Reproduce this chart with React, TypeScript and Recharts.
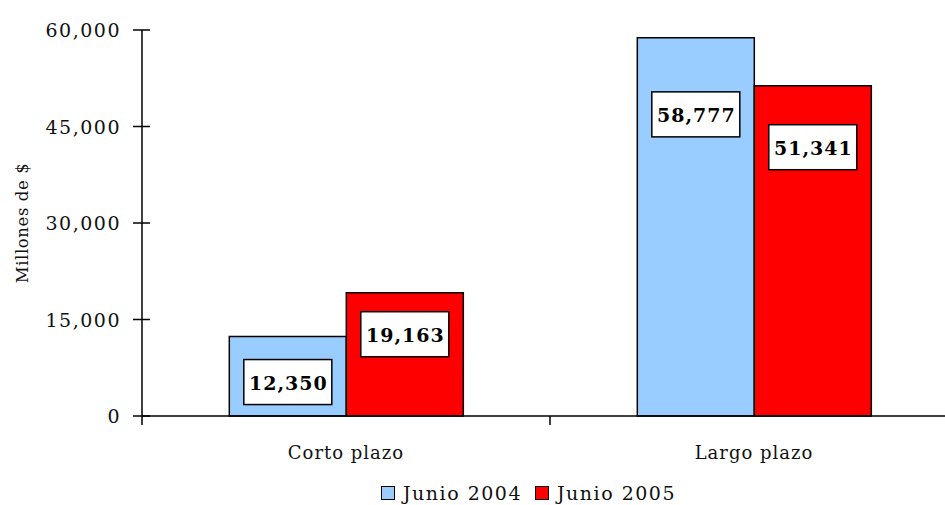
import { BarChart, Bar, XAxis, YAxis, Legend, LabelList } from 'recharts';

// deuda por plazo, millones de $
const categories = ['Corto plazo', 'Largo plazo'];
const junio2004 = [12350, 58777];
const junio2005 = [19163, 51341];
const yTicks = [0, 15000, 30000, 45000, 60000];
const seriesNames = ['Junio 2004', 'Junio 2005'];

const data = categories.map((name, i) => ({
  name,
  y2004: junio2004[i],
  y2005: junio2005[i],
}));

const W = 965;
const H = 505;
const AXIS_X = 142;
const MARGIN = { top: 30, right: 7, left: 0, bottom: 0 };
const LEGEND_H = 24;
const XAXIS_H = 65;
const PLOT_BOTTOM = H - LEGEND_H - XAXIS_H;
const BAND = (W - AXIS_X - MARGIN.right) / categories.length;

const FONT = '"DejaVu Serif", serif';
const COLORS = { y2004: '#99CCFF', y2005: '#FF0000' };

// how far below the bar top each value box sits (hand placed in the original)
const labelDrop: Record<string, number[]> = { y2004: [23, 54], y2005: [19, 39] };

const fmt = (v: number) => v.toLocaleString('en-US');

const YTick = ({ y, payload }: any) => (
  <g>
    <line x1={AXIS_X - 9} x2={AXIS_X + 8} y1={y} y2={y} stroke="#000" strokeWidth={1.5} />
    <text x={AXIS_X - 21} y={y} textAnchor="end" dominantBaseline="central"
      fontFamily={FONT} fontSize={19} letterSpacing={1.5} fill="#111">
      {fmt(payload.value)}
    </text>
  </g>
);

const XTick = ({ x, payload }: any) => (
  <g>
    <line x1={x - BAND / 2} x2={x - BAND / 2} y1={PLOT_BOTTOM} y2={PLOT_BOTTOM + 9} stroke="#000" strokeWidth={1.5} />
    <text x={x} y={PLOT_BOTTOM + 36} textAnchor="middle" dominantBaseline="central"
      fontFamily={FONT} fontSize={18} letterSpacing={1} fill="#111">
      {payload.value}
    </text>
  </g>
);

const makeLabel = (key: string) => (props: any) => {
  const { x, y, width, value, index } = props;
  const bw = 88;
  const bh = 45;
  const bx = x + width / 2 - bw / 2;
  const by = y + labelDrop[key][index];
  return (
    <g>
      <rect x={bx} y={by} width={bw} height={bh} fill="#fff" stroke="#000" strokeWidth={1.5} />
      <text x={bx + bw / 2 + 0.5} y={by + bh / 2 + 1} textAnchor="middle" dominantBaseline="central"
        fontFamily={FONT} fontSize={19} letterSpacing={1} fontWeight="bold" fill="#000">
        {fmt(value)}
      </text>
    </g>
  );
};

const LegendContent = () => (
  <div style={{ display: 'flex', alignItems: 'center', height: LEGEND_H, paddingLeft: 381,
    fontFamily: FONT, fontSize: 19, letterSpacing: 1.5, color: '#111' }}>
    {seriesNames.map((n, i) => (
      <span key={n} style={{ display: 'flex', alignItems: 'center', marginRight: 13 }}>
        <span style={{ width: 12, height: 12, border: '1px solid #000', marginRight: 8,
          background: i === 0 ? COLORS.y2004 : COLORS.y2005 }} />
        {n}
      </span>
    ))}
  </div>
);

export default function App() {
  return (
    <div style={{ width: 945, height: H, overflow: 'hidden' }}>
      <style>{`body{margin:0;overflow:hidden;background:#fff}`}</style>
      <BarChart width={W} height={H} data={data} margin={MARGIN} barGap={0} barCategoryGap="21.4%">
        <XAxis dataKey="name" height={XAXIS_H} tickLine={false} tick={<XTick />}
          axisLine={{ stroke: '#000', strokeWidth: 1.5 }} />
        <YAxis width={AXIS_X} domain={[0, 60000]} ticks={yTicks} tickLine={false} tick={<YTick />}
          axisLine={{ stroke: '#000', strokeWidth: 1.5 }}
          label={{ value: 'Millones de $', angle: -90, position: 'insideLeft', dx: 17,
            style: { fontFamily: FONT, fontSize: 16.5, letterSpacing: 0.6, fill: '#111', textAnchor: 'middle' } }} />
        <Legend verticalAlign="bottom" height={LEGEND_H} content={<LegendContent />} />
        <Bar dataKey="y2004" name={seriesNames[0]} fill={COLORS.y2004} stroke="#000" strokeWidth={1.5} isAnimationActive={false}>
          <LabelList dataKey="y2004" content={makeLabel('y2004')} />
        </Bar>
        <Bar dataKey="y2005" name={seriesNames[1]} fill={COLORS.y2005} stroke="#000" strokeWidth={1.5} isAnimationActive={false}>
          <LabelList dataKey="y2005" content={makeLabel('y2005')} />
        </Bar>
      </BarChart>
    </div>
  );
}
